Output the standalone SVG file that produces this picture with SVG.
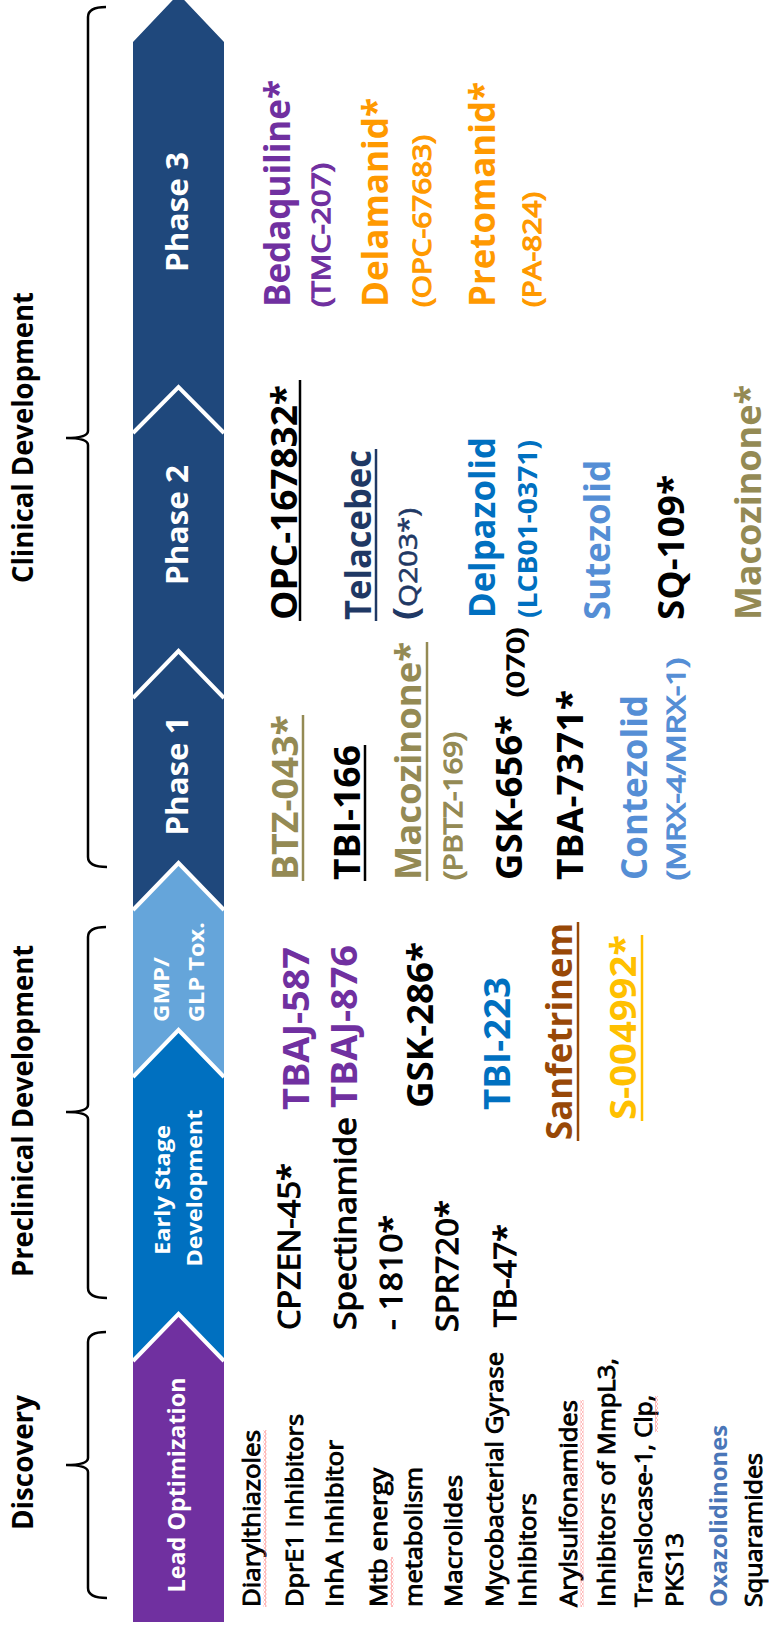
<svg xmlns="http://www.w3.org/2000/svg" width="769" height="1630" viewBox="0 0 769 1630">
<defs>
<pattern id="sq" width="3" height="4" patternUnits="userSpaceOnUse">
<path d="M0.5,0 L2.5,2 L0.5,4" fill="none" stroke="#f55" stroke-width="0.8"/>
</pattern>
</defs>
<style>
text{font-family:"Open Sans","Liberation Sans",Arial,sans-serif;stroke-width:0;}
.hd{font-size:28px;font-weight:700;fill:#000;}
.bd{font-size:23px;font-weight:700;fill:#fff;}
.bs{font-size:21px;font-weight:700;fill:#fff;}
.ph{font-size:30px;font-weight:700;fill:#fff;}
.li{font-size:23px;font-weight:400;fill:#000;stroke:#000;stroke-width:0.95;}
.md{font-size:31px;font-weight:400;fill:#000;stroke:#000;stroke-width:1.1;}
.big{font-size:36px;font-weight:700;}
.sm{font-size:26px;font-weight:400;stroke-width:1.3;}
.brace{fill:none;stroke:#000;stroke-width:2.5;}
.ul{stroke-width:2.5;}
.sep{fill:none;stroke:#fff;stroke-width:4;}
.k{fill:#000;stroke:#000;}
.pu{fill:#7030A0;stroke:#7030A0;}
.ol{fill:#948A54;stroke:#948A54;}
.or{fill:#FF9900;stroke:#FF9900;}
.bl{fill:#0070C0;stroke:#0070C0;}
.lb{fill:#558ED5;stroke:#558ED5;}
.nv{fill:#1F3864;stroke:#1F3864;}
</style>

<g id="braces">
<path class="brace" d="M106,1332 Q88,1332 88,1342 L88,1458 Q88,1465 66,1465 Q88,1465 88,1472 L88,1588 Q88,1598 107,1598"/>
<path class="brace" d="M106,927 Q88,927 88,937 L88,1105 Q88,1112 66,1112 Q88,1112 88,1119 L88,1288 Q88,1298 107,1298"/>
<path class="brace" d="M106,7 Q88,7 88,17 L88,431 Q88,438 66,438 Q88,438 88,445 L88,857 Q88,867 107,867"/>
</g>

<g id="headers">
<text id="h-discovery" class="hd" transform="translate(33,1530) rotate(-90)" textLength="135" lengthAdjust="spacingAndGlyphs">Discovery</text>
<text id="h-preclinical" class="hd" transform="translate(33,1277) rotate(-90)" textLength="332" lengthAdjust="spacingAndGlyphs">Preclinical Development</text>
<text id="h-clinical" class="hd" transform="translate(33,583) rotate(-90)" textLength="291" lengthAdjust="spacingAndGlyphs">Clinical Development</text>
</g>

<g id="pipeline">
<g id="stage-phase">
<polygon points="133,42 178.5,-6 224,42 224,910 178.5,863 133,910" fill="#1F487C"/>
<text class="ph" transform="translate(188,212) rotate(-90)" text-anchor="middle" textLength="120" lengthAdjust="spacingAndGlyphs">Phase 3</text>
<text class="ph" transform="translate(188,525) rotate(-90)" text-anchor="middle" textLength="120" lengthAdjust="spacingAndGlyphs">Phase 2</text>
<text class="ph" transform="translate(188,776) rotate(-90)" text-anchor="middle" textLength="119" lengthAdjust="spacingAndGlyphs">Phase 1</text>
</g>
<g id="stage-gmp">
<polygon points="133,910 178.5,863 224,910 224,1077 178.5,1030 133,1077" fill="#65A5DA"/>
<text class="bs" transform="translate(169,1022) rotate(-90)" textLength="65" lengthAdjust="spacingAndGlyphs">GMP/</text>
<text class="bs" transform="translate(204,1022) rotate(-90)" textLength="100" lengthAdjust="spacingAndGlyphs">GLP Tox.</text>
</g>
<g id="stage-early">
<polygon points="133,1077 178.5,1030 224,1077 224,1361 178.5,1314 133,1361" fill="#0070C0"/>
<text class="bs" transform="translate(170,1190) rotate(-90)" text-anchor="middle" textLength="130" lengthAdjust="spacingAndGlyphs">Early Stage</text>
<text class="bs" transform="translate(202,1188) rotate(-90)" text-anchor="middle" textLength="157" lengthAdjust="spacingAndGlyphs">Development</text>
</g>
<g id="stage-lead">
<polygon points="133,1361 178.5,1314 224,1361 224,1622 133,1622" fill="#7030A0"/>
<text class="bd" transform="translate(185,1485) rotate(-90)" text-anchor="middle" textLength="215" lengthAdjust="spacingAndGlyphs">Lead Optimization</text>
</g>
<polyline class="sep" points="133,433 178.5,387 224,433"/>
<polyline class="sep" points="133,698 178.5,651 224,698"/>
<polyline class="sep" points="133,910 178.5,863 224,910"/>
<polyline class="sep" points="133,1077 178.5,1030 224,1077"/>
<polyline class="sep" points="133,1361 178.5,1314 224,1361"/>
</g>

<g id="phase3-drugs">
<text class="big pu" transform="translate(290,307) rotate(-90)" textLength="227" lengthAdjust="spacingAndGlyphs">Bedaquiline*</text>
<text class="sm pu" transform="translate(330,307) rotate(-90)" textLength="144" lengthAdjust="spacingAndGlyphs">(TMC-207)</text>
<text class="big or" transform="translate(388,307) rotate(-90)" textLength="209" lengthAdjust="spacingAndGlyphs">Delamanid*</text>
<text class="sm or" transform="translate(431,307) rotate(-90)" textLength="172" lengthAdjust="spacingAndGlyphs">(OPC-67683)</text>
<text class="big or" transform="translate(495,307) rotate(-90)" textLength="225" lengthAdjust="spacingAndGlyphs">Pretomanid*</text>
<text class="sm or" transform="translate(541,307) rotate(-90)" textLength="115" lengthAdjust="spacingAndGlyphs">(PA-824)</text>
</g>

<g id="phase2-drugs">
<text class="big k" transform="translate(297,620) rotate(-90)" textLength="235" lengthAdjust="spacingAndGlyphs">OPC-167832*</text>
<line class="ul" x1="300" y1="380" x2="300" y2="621" stroke="#000"/>
<text class="big nv" transform="translate(371,620) rotate(-90)" textLength="170" lengthAdjust="spacingAndGlyphs">Telacebec</text>
<line class="ul" x1="376" y1="449" x2="376" y2="621" stroke="#1F3864"/>
<text fill="#1F3864" transform="translate(417,620) rotate(-90)" textLength="112" lengthAdjust="spacingAndGlyphs"><tspan font-size="34" font-weight="700">(</tspan><tspan font-size="26" font-weight="400" stroke="#1F3864" stroke-width="0.6">Q203*)</tspan></text>
<text class="big bl" transform="translate(495,618) rotate(-90)" textLength="181" lengthAdjust="spacingAndGlyphs">Delpazolid</text>
<text class="sm bl" style="font-weight:700;stroke-width:0" transform="translate(537,618) rotate(-90)" textLength="178" lengthAdjust="spacingAndGlyphs">(LCB01-0371)</text>
<text class="big lb" transform="translate(610,620) rotate(-90)" textLength="160" lengthAdjust="spacingAndGlyphs">Sutezolid</text>
<text class="big k" transform="translate(684,620) rotate(-90)" textLength="145" lengthAdjust="spacingAndGlyphs">SQ-109*</text>
<text class="big ol" transform="translate(761,620) rotate(-90)" textLength="235" lengthAdjust="spacingAndGlyphs">Macozinone*</text>
</g>

<g id="phase1-drugs">
<text class="big ol" transform="translate(298,880) rotate(-90)" textLength="165" lengthAdjust="spacingAndGlyphs">BTZ-043*</text>
<line class="ul" x1="303" y1="715" x2="303" y2="881" stroke="#948A54"/>
<text class="big k" transform="translate(360,880) rotate(-90)" textLength="135" lengthAdjust="spacingAndGlyphs">TBI-166</text>
<line class="ul" x1="365" y1="745" x2="365" y2="881" stroke="#000"/>
<text class="big ol" transform="translate(421,880) rotate(-90)" textLength="238" lengthAdjust="spacingAndGlyphs">Macozinone*</text>
<line class="ul" x1="427" y1="642" x2="427" y2="881" stroke="#948A54"/>
<text class="sm ol" transform="translate(462,880) rotate(-90)" textLength="148" lengthAdjust="spacingAndGlyphs">(PBTZ-169)</text>
<text class="big k" transform="translate(522,880) rotate(-90)" textLength="165" lengthAdjust="spacingAndGlyphs">GSK-656*</text>
<text class="sm k" style="font-size:24px" transform="translate(524,697) rotate(-90)" textLength="69" lengthAdjust="spacingAndGlyphs">(070)</text>
<text class="big k" transform="translate(583,880) rotate(-90)" textLength="190" lengthAdjust="spacingAndGlyphs">TBA-7371*</text>
<text class="big lb" transform="translate(647,880) rotate(-90)" textLength="185" lengthAdjust="spacingAndGlyphs">Contezolid</text>
<text class="sm lb" transform="translate(685,880) rotate(-90)" textLength="222" lengthAdjust="spacingAndGlyphs">(MRX-4/MRX-1)</text>
</g>

<g id="gmp-drugs">
<text class="big pu" transform="translate(309,1110) rotate(-90)" textLength="163" lengthAdjust="spacingAndGlyphs">TBAJ-587</text>
<text class="big pu" transform="translate(357,1108) rotate(-90)" textLength="163" lengthAdjust="spacingAndGlyphs">TBAJ-876</text>
<text class="big k" transform="translate(433,1108) rotate(-90)" textLength="166" lengthAdjust="spacingAndGlyphs">GSK-286*</text>
<text class="big bl" transform="translate(510,1110) rotate(-90)" textLength="133" lengthAdjust="spacingAndGlyphs">TBI-223</text>
<text class="big" fill="#984807" transform="translate(572,1140) rotate(-90)" textLength="217" lengthAdjust="spacingAndGlyphs">Sanfetrinem</text>
<line class="ul" x1="578" y1="922" x2="578" y2="1141" stroke="#984807"/>
<text class="big" fill="#FFC000" transform="translate(636,1120) rotate(-90)" textLength="185" lengthAdjust="spacingAndGlyphs">S-004992*</text>
<line class="ul" x1="642" y1="935" x2="642" y2="1121" stroke="#FFC000"/>
</g>

<g id="early-drugs">
<text class="md" transform="translate(300,1330) rotate(-90)" textLength="167" lengthAdjust="spacingAndGlyphs">CPZEN-45*</text>
<text class="md" transform="translate(356,1330) rotate(-90)" textLength="213" lengthAdjust="spacingAndGlyphs">Spectinamide</text>
<text class="md" transform="translate(402,1330) rotate(-90)" textLength="115" lengthAdjust="spacingAndGlyphs">- 1810*</text>
<text class="md" transform="translate(458,1332) rotate(-90)" textLength="132" lengthAdjust="spacingAndGlyphs">SPR720*</text>
<text class="md" transform="translate(516,1327) rotate(-90)" textLength="103" lengthAdjust="spacingAndGlyphs">TB-47*</text>
</g>

<g id="discovery-list">
<text class="li" transform="translate(259.5,1607) rotate(-90)" textLength="177" lengthAdjust="spacingAndGlyphs">Diarylthiazoles</text>
<text class="li" transform="translate(302.5,1607) rotate(-90)" textLength="193" lengthAdjust="spacingAndGlyphs">DprE1 Inhibitors</text>
<text class="li" transform="translate(343,1607) rotate(-90)" textLength="167" lengthAdjust="spacingAndGlyphs">InhA Inhibitor</text>
<text class="li" transform="translate(386.5,1607) rotate(-90)" textLength="139" lengthAdjust="spacingAndGlyphs">Mtb energy</text>
<text class="li" transform="translate(421.5,1607) rotate(-90)" textLength="140" lengthAdjust="spacingAndGlyphs">metabolism</text>
<text class="li" transform="translate(461.5,1607) rotate(-90)" textLength="132" lengthAdjust="spacingAndGlyphs">Macrolides</text>
<text class="li" transform="translate(503,1607) rotate(-90)" textLength="255" lengthAdjust="spacingAndGlyphs">Mycobacterial Gyrase</text>
<text class="li" transform="translate(536,1607) rotate(-90)" textLength="114" lengthAdjust="spacingAndGlyphs">Inhibitors</text>
<text class="li" transform="translate(576.5,1607) rotate(-90)" textLength="207" lengthAdjust="spacingAndGlyphs">Arylsulfonamides</text>
<text class="li" transform="translate(615,1607) rotate(-90)" textLength="249" lengthAdjust="spacingAndGlyphs">Inhibitors of MmpL3,</text>
<text class="li" transform="translate(651.5,1607) rotate(-90)" textLength="212" lengthAdjust="spacingAndGlyphs">Translocase-1, Clp,</text>
<text class="li" transform="translate(683,1607) rotate(-90)" textLength="74" lengthAdjust="spacingAndGlyphs">PKS13</text>
<text class="li" style="fill:#4A76B8;stroke:#4A76B8;font-weight:700;stroke-width:0" transform="translate(726.5,1607) rotate(-90)" textLength="182" lengthAdjust="spacingAndGlyphs">Oxazolidinones</text>
<text class="li" transform="translate(762,1607) rotate(-90)" textLength="154" lengthAdjust="spacingAndGlyphs">Squaramides</text>
<rect x="263.5" y="1430" width="3" height="177" fill="url(#sq)"/>
<rect x="390.5" y="1557" width="3" height="50" fill="url(#sq)"/>
<rect x="580.5" y="1400" width="3" height="207" fill="url(#sq)"/>
<rect x="655" y="1396" width="3" height="36" fill="url(#sq)"/>
</g>
</svg>
